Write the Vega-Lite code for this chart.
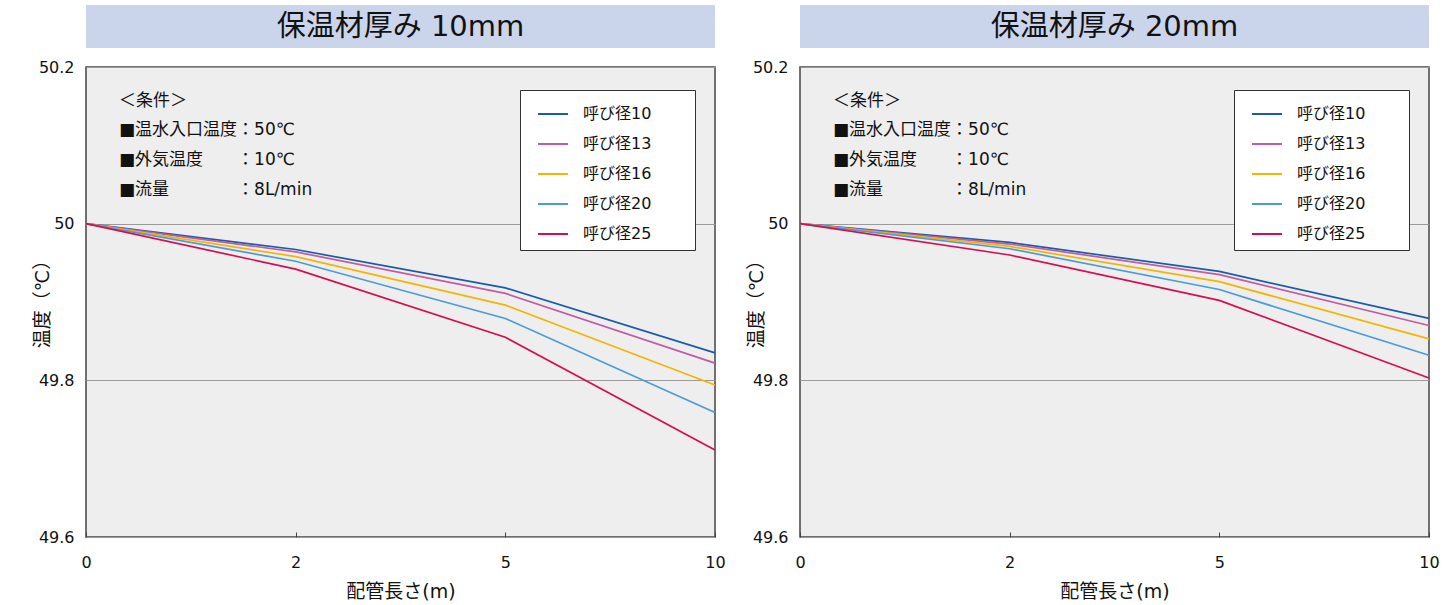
{
  "$schema": "https://vega.github.io/schema/vega-lite/v6.json",
  "padding": {"left": 32, "top": 5, "right": 10, "bottom": 5},
  "background": "white",
  "config": {
    "font": "DejaVu Sans, Noto Sans CJK JP",
    "view": {"fill": "#eeeeee", "stroke": "#444444", "strokeWidth": 1.5}
  },
  "datasets": {
    "t10": [
      {"size": "呼び径10", "len": 0, "temp": 50}, {"size": "呼び径10", "len": 2, "temp": 49.967}, {"size": "呼び径10", "len": 5, "temp": 49.918}, {"size": "呼び径10", "len": 10, "temp": 49.835},
      {"size": "呼び径13", "len": 0, "temp": 50}, {"size": "呼び径13", "len": 2, "temp": 49.964}, {"size": "呼び径13", "len": 5, "temp": 49.911}, {"size": "呼び径13", "len": 10, "temp": 49.822},
      {"size": "呼び径16", "len": 0, "temp": 50}, {"size": "呼び径16", "len": 2, "temp": 49.958}, {"size": "呼び径16", "len": 5, "temp": 49.896}, {"size": "呼び径16", "len": 10, "temp": 49.794},
      {"size": "呼び径20", "len": 0, "temp": 50}, {"size": "呼び径20", "len": 2, "temp": 49.952}, {"size": "呼び径20", "len": 5, "temp": 49.879}, {"size": "呼び径20", "len": 10, "temp": 49.759},
      {"size": "呼び径25", "len": 0, "temp": 50}, {"size": "呼び径25", "len": 2, "temp": 49.942}, {"size": "呼び径25", "len": 5, "temp": 49.855}, {"size": "呼び径25", "len": 10, "temp": 49.711}
    ],
    "t20": [
      {"size": "呼び径10", "len": 0, "temp": 50}, {"size": "呼び径10", "len": 2, "temp": 49.976}, {"size": "呼び径10", "len": 5, "temp": 49.939}, {"size": "呼び径10", "len": 10, "temp": 49.879},
      {"size": "呼び径13", "len": 0, "temp": 50}, {"size": "呼び径13", "len": 2, "temp": 49.974}, {"size": "呼び径13", "len": 5, "temp": 49.935}, {"size": "呼び径13", "len": 10, "temp": 49.870},
      {"size": "呼び径16", "len": 0, "temp": 50}, {"size": "呼び径16", "len": 2, "temp": 49.971}, {"size": "呼び径16", "len": 5, "temp": 49.926}, {"size": "呼び径16", "len": 10, "temp": 49.853},
      {"size": "呼び径20", "len": 0, "temp": 50}, {"size": "呼び径20", "len": 2, "temp": 49.968}, {"size": "呼び径20", "len": 5, "temp": 49.916}, {"size": "呼び径20", "len": 10, "temp": 49.832},
      {"size": "呼び径25", "len": 0, "temp": 50}, {"size": "呼び径25", "len": 2, "temp": 49.960}, {"size": "呼び径25", "len": 5, "temp": 49.902}, {"size": "呼び径25", "len": 10, "temp": 49.803}
    ],
    "notes": [
      {"ax": 0.315, "ay": 50.157, "t": "＜条件＞"},
      {"ax": 0.315, "ay": 50.120, "t": "■温水入口温度：50℃"},
      {"ax": 0.315, "ay": 50.081, "t": "■外気温度　　：10℃"},
      {"ax": 0.315, "ay": 50.043, "t": "■流量　　　　：8L/min"}
    ]
  },
  "columns": 2,
  "spacing": {"row": 19, "column": 85},
  "bounds": "flush",
  "resolve": {"legend": {"color": "independent"}},
  "concat": [
    {
      "width": 629, "height": 43,
      "view": {"fill": "#cad4eb", "stroke": null},
      "data": {"values": [{"t": "保温材厚み 10mm"}]},
      "mark": {"type": "text", "fontSize": 29, "color": "#111111"},
      "encoding": {"text": {"field": "t"}}
    },
    {
      "width": 629, "height": 43,
      "view": {"fill": "#cad4eb", "stroke": null},
      "data": {"values": [{"t": "保温材厚み 20mm"}]},
      "mark": {"type": "text", "fontSize": 29, "color": "#111111"},
      "encoding": {"text": {"field": "t"}}
    },
    {
      "width": 629, "height": 470,
      "encoding": {
        "x": {"field": "len", "type": "quantitative",
          "scale": {"domain": [0, 2, 5, 10], "range": [0, 209.67, 419.33, 629]},
          "axis": {"values": [0, 2, 5, 10], "format": "d", "grid": false, "domain": false, "tickSize": -5, "tickColor": "#444444", "labelFlush": false, "labelFontSize": 16, "labelColor": "#111111", "labelPadding": 22, "title": "配管長さ(m)", "titleFontSize": 19, "titleFontWeight": "normal", "titleColor": "#111111", "titlePadding": 12}},
        "y": {"field": "temp", "type": "quantitative",
          "scale": {"domain": [49.6, 50.2], "zero": false, "nice": false},
          "axis": {"values": [49.6, 49.8, 50, 50.2], "format": "~f", "grid": true, "gridColor": "#9a9a9a", "ticks": false, "domain": false, "labelFontSize": 16, "labelColor": "#111111", "labelPadding": 12, "title": "温度（℃）", "titleFontSize": 19, "titleFontWeight": "normal", "titleColor": "#111111", "titleX": -44, "titleY": 232, "titleAlign": "center", "titleBaseline": "middle"}}
      },
      "layer": [
        {
          "data": {"name": "t10"},
          "mark": {"type": "line", "strokeWidth": 1.7},
          "encoding": {
            "color": {"field": "size", "type": "nominal",
              "scale": {"domain": ["呼び径10", "呼び径13", "呼び径16", "呼び径20", "呼び径25"], "range": ["#1a5ca8", "#c45aa0", "#f5b400", "#4b9bd8", "#d80d4f"]},
              "legend": {"orient": "none", "legendX": 434, "legendY": 23, "title": null, "symbolType": "stroke", "symbolSize": 900, "symbolStrokeWidth": 2, "symbolOffset": 9, "labelFontSize": 16, "labelColor": "#111111", "labelOffset": 14, "padding": 8, "rowPadding": 6, "strokeColor": "#333333", "fillColor": "white", "labelExpr": "datum.label + '\u2800\u2800\u2800'"}}
          }
        },
        {
          "data": {"name": "notes"},
          "mark": {"type": "text", "align": "left", "baseline": "middle", "fontSize": 17, "color": "#111111"},
          "encoding": {
            "x": {"field": "ax", "type": "quantitative"},
            "y": {"field": "ay", "type": "quantitative"},
            "text": {"field": "t"}
          }
        }
      ]
    },
    {
      "width": 629, "height": 470,
      "encoding": {
        "x": {"field": "len", "type": "quantitative",
          "scale": {"domain": [0, 2, 5, 10], "range": [0, 209.67, 419.33, 629]},
          "axis": {"values": [0, 2, 5, 10], "format": "d", "grid": false, "domain": false, "tickSize": -5, "tickColor": "#444444", "labelFlush": false, "labelFontSize": 16, "labelColor": "#111111", "labelPadding": 22, "title": "配管長さ(m)", "titleFontSize": 19, "titleFontWeight": "normal", "titleColor": "#111111", "titlePadding": 12}},
        "y": {"field": "temp", "type": "quantitative",
          "scale": {"domain": [49.6, 50.2], "zero": false, "nice": false},
          "axis": {"values": [49.6, 49.8, 50, 50.2], "format": "~f", "grid": true, "gridColor": "#9a9a9a", "ticks": false, "domain": false, "labelFontSize": 16, "labelColor": "#111111", "labelPadding": 12, "title": "温度（℃）", "titleFontSize": 19, "titleFontWeight": "normal", "titleColor": "#111111", "titleX": -44, "titleY": 232, "titleAlign": "center", "titleBaseline": "middle"}}
      },
      "layer": [
        {
          "data": {"name": "t20"},
          "mark": {"type": "line", "strokeWidth": 1.7},
          "encoding": {
            "color": {"field": "size", "type": "nominal",
              "scale": {"domain": ["呼び径10", "呼び径13", "呼び径16", "呼び径20", "呼び径25"], "range": ["#1a5ca8", "#c45aa0", "#f5b400", "#4b9bd8", "#d80d4f"]},
              "legend": {"orient": "none", "legendX": 434, "legendY": 23, "title": null, "symbolType": "stroke", "symbolSize": 900, "symbolStrokeWidth": 2, "symbolOffset": 9, "labelFontSize": 16, "labelColor": "#111111", "labelOffset": 14, "padding": 8, "rowPadding": 6, "strokeColor": "#333333", "fillColor": "white", "labelExpr": "datum.label + '\u2800\u2800\u2800'"}}
          }
        },
        {
          "data": {"name": "notes"},
          "mark": {"type": "text", "align": "left", "baseline": "middle", "fontSize": 17, "color": "#111111"},
          "encoding": {
            "x": {"field": "ax", "type": "quantitative"},
            "y": {"field": "ay", "type": "quantitative"},
            "text": {"field": "t"}
          }
        }
      ]
    }
  ]
}
